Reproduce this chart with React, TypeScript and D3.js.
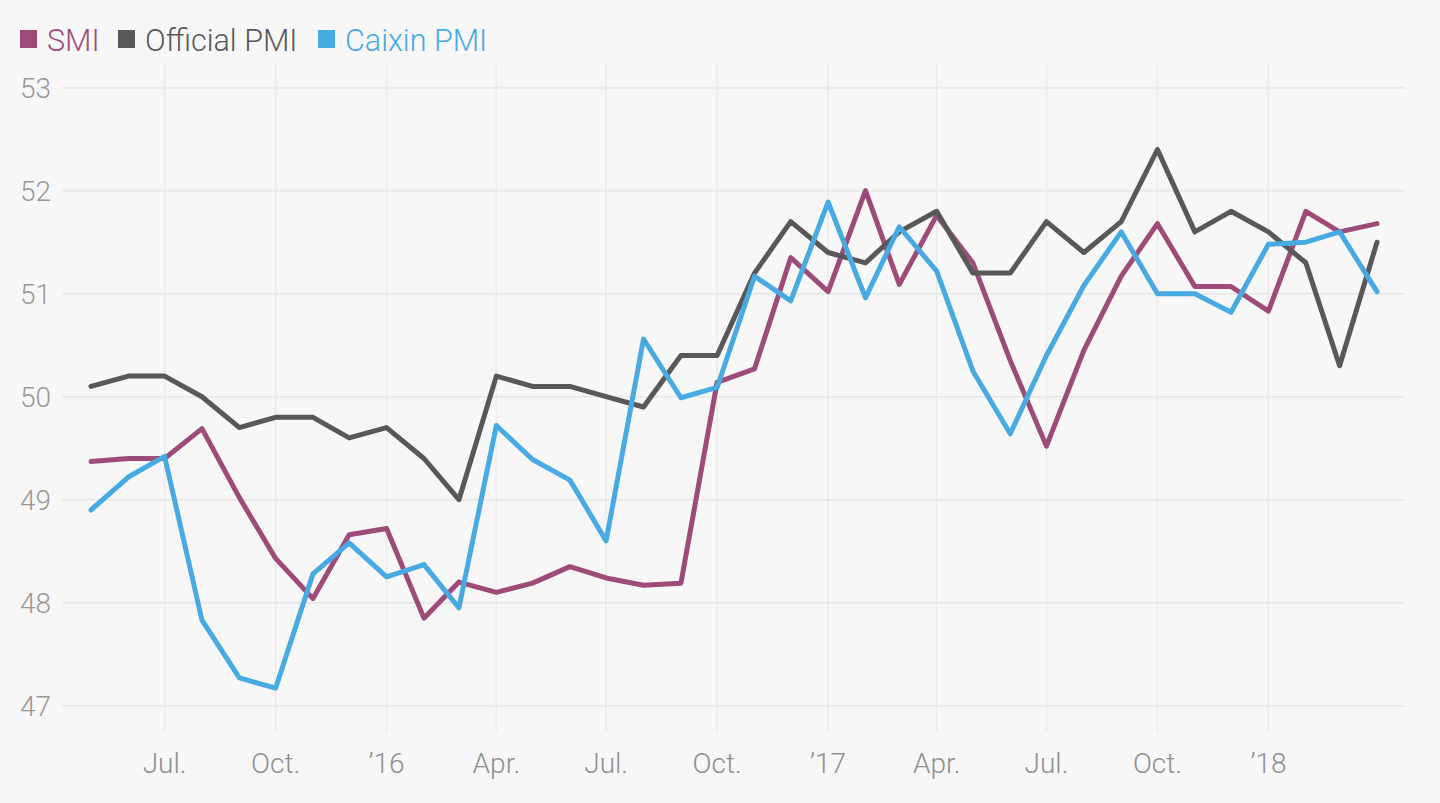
import React from "react";
import * as d3 from "d3";

const startMonth = new Date(2015, 4, 1); // May 2015
const smi = [49.37, 49.4, 49.4, 49.69, 49.02, 48.43, 48.04, 48.66, 48.72, 47.85, 48.2, 48.1, 48.19, 48.35, 48.24, 48.17, 48.19, 50.14, 50.27, 51.35, 51.02, 52.0, 51.09, 51.76, 51.3, 50.35, 49.52, 50.45, 51.17, 51.68, 51.07, 51.07, 50.83, 51.8, 51.6, 51.68];
const officialPmi = [50.1, 50.2, 50.2, 50.0, 49.7, 49.8, 49.8, 49.6, 49.7, 49.4, 49.0, 50.2, 50.1, 50.1, 50.0, 49.9, 50.4, 50.4, 51.2, 51.7, 51.4, 51.3, 51.6, 51.8, 51.2, 51.2, 51.7, 51.4, 51.7, 52.4, 51.6, 51.8, 51.6, 51.3, 50.3, 51.5];
const caixinPmi = [48.9, 49.22, 49.42, 47.83, 47.27, 47.17, 48.28, 48.58, 48.25, 48.37, 47.95, 49.72, 49.39, 49.19, 48.6, 50.56, 49.99, 50.09, 51.17, 50.93, 51.89, 50.96, 51.65, 51.22, 50.25, 49.64, 50.4, 51.08, 51.6, 51.0, 51.0, 50.82, 51.48, 51.5, 51.6, 51.02];
const yTicks = [47, 48, 49, 50, 51, 52, 53];
const seriesNames = ["SMI", "Official PMI", "Caixin PMI"];
const seriesColors = ["#9f4b7a", "#585858", "#47aae2"];

const W = 1440;
const H = 803;
const FONT = "Roboto, 'Noto Sans', sans-serif";

function monthLabel(d: Date) {
  const m = d.getMonth();
  if (m === 0) return "\u2019" + String(d.getFullYear()).slice(2);
  return ["", "", "", "Apr.", "", "", "Jul.", "", "", "Oct.", "", ""][m];
}

export default function App() {
  const dates = smi.map((_, i) => d3.timeMonth.offset(startMonth, i));
  const x = d3
    .scaleTime()
    .domain([dates[0], dates[dates.length - 1]])
    .range([91, 1377]);
  const y = d3.scaleLinear().domain([47, 53]).range([705.7, 87.7]);
  const xTicks = d3.timeMonth.every(3)!.range(new Date(2015, 6, 1), new Date(2018, 1, 1));

  const series = [smi, officialPmi, caixinPmi];
  const line = d3
    .line<number>()
    .x((_, i) => x(dates[i]))
    .y((v) => y(v));

  const legendX = [20, 118, 318];

  return (
    <svg
      width={W}
      height={H}
      style={{ position: "absolute", left: 0, top: 0, background: "#f7f7f7" }}
      fontFamily={FONT}
    >
      <rect x={0} y={0} width={W} height={H} fill="#f7f7f7" />
      {xTicks.map((t, i) => (
        <line key={"vg" + i} x1={x(t)} x2={x(t)} y1={64} y2={732} stroke="#ebebeb" strokeWidth={1.5} />
      ))}
      {yTicks.map((t) => (
        <line key={"hg" + t} x1={62} x2={1405} y1={y(t)} y2={y(t)} stroke="#e9e9e9" strokeWidth={2} />
      ))}
      {yTicks.map((t) => (
        <text key={"yl" + t} x={20} y={y(t) + 10} fontSize={28} fontWeight={300} fill="#999">
          {t}
        </text>
      ))}
      {xTicks.map((t, i) => (
        <text key={"xl" + i} x={x(t)} y={773} fontSize={28} fontWeight={300} fill="#8f8f8f" textAnchor="middle">
          {monthLabel(t)}
        </text>
      ))}
      {series.map((s, i) => (
        <path
          key={"s" + i}
          d={line(s) || ""}
          fill="none"
          stroke={seriesColors[i]}
          strokeWidth={5}
          strokeLinejoin="round"
          strokeLinecap="round"
        />
      ))}
      {seriesNames.map((n, i) => (
        <g key={"lg" + i}>
          <rect x={legendX[i]} y={30} width={17} height={18} fill={seriesColors[i]} />
          <text x={legendX[i] + 27} y={51} fontSize={30.5} fontWeight={300} fill={seriesColors[i]}>
            {n}
          </text>
        </g>
      ))}
    </svg>
  );
}
